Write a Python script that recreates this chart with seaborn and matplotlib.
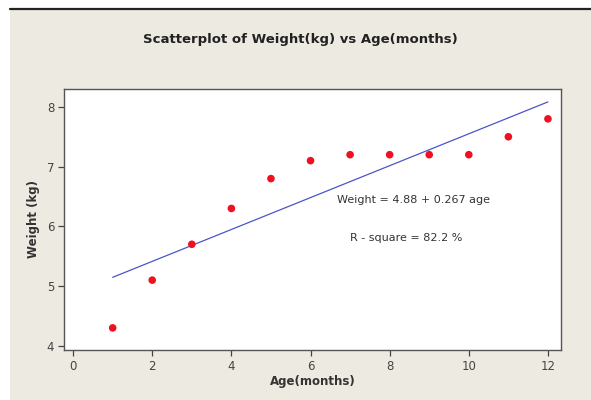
import matplotlib
matplotlib.use("Agg")
import matplotlib.pyplot as plt
from matplotlib.patches import Rectangle
from matplotlib.lines import Line2D
import numpy as np
import pandas as pd
import seaborn as sns

# Observations
age_months = [1, 2, 3, 4, 5, 6, 7, 8, 9, 10, 11, 12]
weight_kg = [4.3, 5.1, 5.7, 6.3, 6.8, 7.1, 7.2, 7.2, 7.2, 7.2, 7.5, 7.8]

# Fitted regression
intercept = 4.88
slope = 0.267
r_square = 82.2

x_ticks = [0, 2, 4, 6, 8, 10, 12]
y_ticks = [4, 5, 6, 7, 8]

df = pd.DataFrame({"age": age_months, "weight": weight_kg})
fit = pd.DataFrame({"age": [min(age_months), max(age_months)]})
fit["weight"] = intercept + slope * fit["age"]

sns.set_style("ticks")
plt.rcParams["font.family"] = ["DejaVu Sans"]

bg = "#edeae1"
fig = plt.figure(figsize=(5.91, 4.0), dpi=100)
fig.patch.set_facecolor("white")
fig.add_artist(Rectangle((10 / 591, 0), 1 - 10 / 591, 391 / 400,
                         transform=fig.transFigure, facecolor=bg,
                         edgecolor="none", zorder=-10))
fig.add_artist(Line2D([10 / 591, 1], [391.5 / 400, 391.5 / 400],
                      transform=fig.transFigure, color="#222222", lw=1.6))

ax = fig.add_axes([64 / 591, 50 / 400, 497 / 591, 261 / 400])
ax.set_facecolor("white")

sns.lineplot(data=fit, x="age", y="weight", ax=ax, color="#4a55cc", lw=0.9)
sns.scatterplot(data=df, x="age", y="weight", ax=ax, color="#ee1122",
                s=30, edgecolor="none", zorder=3)

ax.set_xlim(-0.23, 12.33)
ax.set_ylim(3.93, 8.30)
ax.set_xticks(x_ticks)
ax.set_yticks(y_ticks)
ax.tick_params(direction="out", length=4, width=0.9, colors="#444444",
               labelsize=8.5, labelcolor="#444444", pad=3)

for side in ["left", "bottom", "top", "right"]:
    ax.spines[side].set_visible(True)
    ax.spines[side].set_color("#555555")
    ax.spines[side].set_linewidth(1.0)

ax.set_xlabel("Age(months)", fontsize=8.5, fontweight="bold", color="#333333", labelpad=2)
ax.set_ylabel("Weight (kg)", fontsize=8.5, fontweight="bold", color="#333333", labelpad=5)

ax.text(6.67, 6.44, f"Weight = {intercept} + {slope} age", fontsize=8,
        color="#333333", ha="left", va="center")
ax.text(7.0, 5.81, f"R - square = {r_square} %", fontsize=8,
        color="#333333", ha="left", va="center")

fig.text(300 / 591, 1 - 40 / 400, "Scatterplot of Weight(kg) vs Age(months)",
         fontsize=9.5, fontweight="bold", color="#222222", ha="center", va="center")

fig.savefig("out.png", dpi=100, facecolor=fig.get_facecolor())
